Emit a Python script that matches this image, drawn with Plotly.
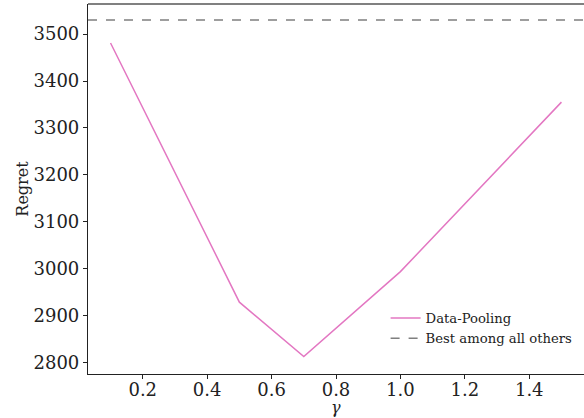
import plotly.graph_objects as go

gamma = [0.1, 0.5, 0.7, 1.0, 1.5]
regret = [3481, 2929, 2813, 2994, 3355]
best_other = 3530
series_names = ["Data-Pooling", "Best among all others"]
x_ticks = [0.2, 0.4, 0.6, 0.8, 1.0, 1.2, 1.4]
y_ticks = [2800, 2900, 3000, 3100, 3200, 3300, 3400, 3500]

x_range = [0.03, 1.57]
y_range = [2776, 3564]

font_family = "DejaVu Serif"

fig = go.Figure()
fig.add_trace(go.Scatter(x=gamma, y=regret, mode="lines", name=series_names[0],
                         line=dict(color="#e377c2", width=1.5)))
fig.add_trace(go.Scatter(x=x_range, y=[best_other, best_other], mode="lines", name=series_names[1],
                         line=dict(color="#7f7f7f", width=1.5, dash="dash")))

fig.update_layout(
    width=584, height=418,
    margin=dict(l=88, r=0, t=4, b=44),
    plot_bgcolor="white", paper_bgcolor="white",
    font=dict(family=font_family, color="#222222", size=18),
    showlegend=True,
    legend=dict(x=0.60, y=0.192, xanchor="left", yanchor="top",
                bgcolor="rgba(255,255,255,0)", font=dict(size=13.2, family=font_family),
                tracegroupgap=0, itemwidth=30),
    xaxis=dict(range=x_range, tickvals=x_ticks, ticktext=[f"{t:.1f}" for t in x_ticks],
               showgrid=False, zeroline=False, showline=True, linecolor="#222222", linewidth=1.2,
               ticks="outside", ticklen=4, tickcolor="#222222", automargin=False,
               ticklabelstandoff=-5),
    yaxis=dict(range=y_range, tickvals=y_ticks,
               showgrid=False, zeroline=False, showline=True, linecolor="#222222", linewidth=1.2,
               ticks="outside", ticklen=4, tickcolor="#222222", automargin=False,
               title=dict(text="Regret", font=dict(size=16), standoff=0)),
)
fig.add_annotation(text="<i>γ</i>", xref="paper", yref="paper", x=0.5, y=-44 / 370,
                   xanchor="center", yanchor="bottom", showarrow=False,
                   font=dict(size=16, family=font_family, color="#222222"),
                   borderpad=0)
fig.add_shape(type="line", xref="paper", yref="paper", x0=0, x1=1, y0=1, y1=1,
              line=dict(color="#808080", width=2))

fig.write_html("out.html", config={"displayModeBar": False},
               post_script="document.body.style.margin='0';")
